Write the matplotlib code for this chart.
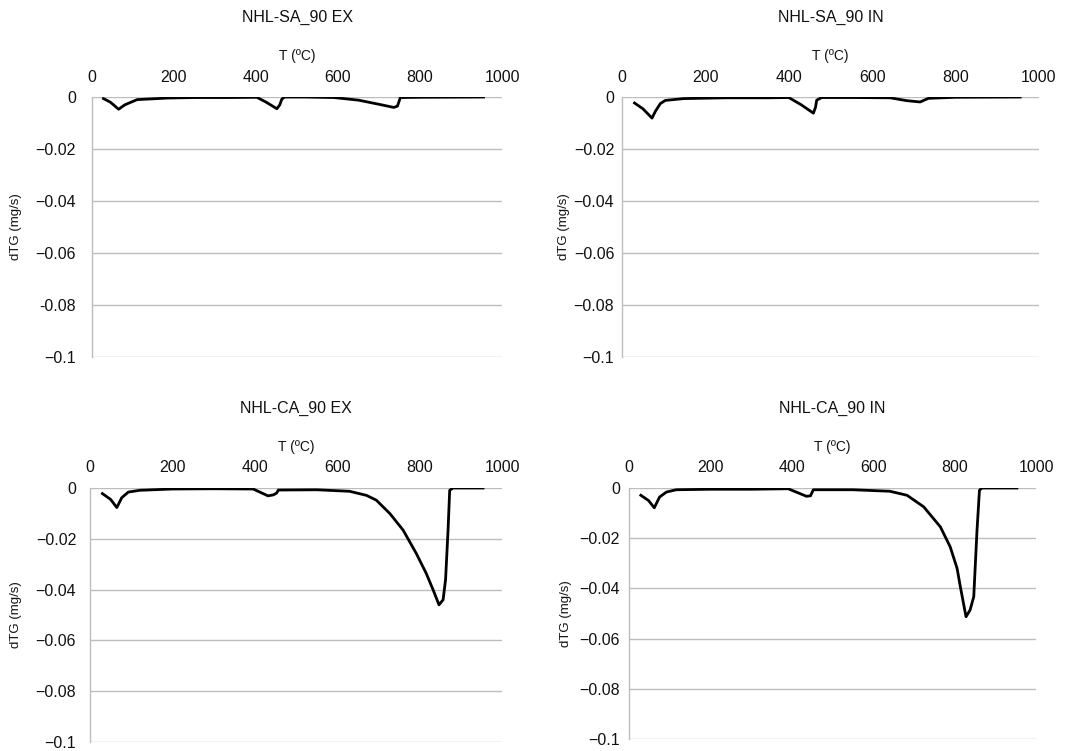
import matplotlib.pyplot as plt

plt.rcParams['font.family'] = ['Liberation Sans', 'DejaVu Sans']

# panel titles
titles = ["NHL-SA_90 EX", "NHL-SA_90 IN", "NHL-CA_90 EX", "NHL-CA_90 IN"]

# temperature (ºC) and dTG (mg/s)
sa_ex_T = [28, 45, 65, 80, 110, 183, 250, 330, 402, 425, 451, 458, 463, 470, 520, 590, 650, 700, 736, 745, 752, 800, 955]
sa_ex_y = [-0.0006, -0.002, -0.0047, -0.003, -0.001, -0.0004, -0.0002, -0.0002, -0.0001, -0.002, -0.0045, -0.003, -0.0008, 0.0, 0.0, -0.0002, -0.0012, -0.0028, -0.004, -0.0035, -0.0002, -0.0001, 0.0]

sa_in_T = [30, 50, 72, 80, 92, 104, 148, 250, 350, 400, 430, 459, 464, 467, 479, 560, 643, 683, 715, 735, 800, 955]
sa_in_y = [-0.0023, -0.0045, -0.0081, -0.0055, -0.0025, -0.0013, -0.0006, -0.0003, -0.0003, -0.0002, -0.003, -0.0062, -0.004, -0.0012, -0.0002, -0.0002, -0.0003, -0.0014, -0.0019, -0.0005, -0.0001, 0.0]

ca_ex_T = [30, 50, 65, 77, 93, 121, 200, 300, 396, 432, 445, 453, 457, 550, 630, 671, 695, 728, 760, 792, 816, 833, 847, 857, 863, 869, 873, 881, 954]
ca_ex_y = [-0.0022, -0.0045, -0.0077, -0.0038, -0.0016, -0.0009, -0.0004, -0.0003, -0.0004, -0.0031, -0.0027, -0.002, -0.0008, -0.0007, -0.0013, -0.0029, -0.0048, -0.0101, -0.0166, -0.0258, -0.0336, -0.0402, -0.046, -0.044, -0.036, -0.0166, -0.0009, 0.0, 0.0]

ca_in_T = [29, 48, 62, 75, 92, 116, 200, 300, 391, 436, 446, 449, 453, 550, 641, 683, 724, 765, 789, 806, 814, 828, 838, 847, 855, 861, 867, 953]
ca_in_y = [-0.0029, -0.005, -0.0079, -0.0036, -0.0016, -0.0007, -0.0005, -0.0005, -0.0003, -0.0033, -0.0031, -0.002, -0.0007, -0.0007, -0.0013, -0.0029, -0.0075, -0.0155, -0.0234, -0.032, -0.0393, -0.0513, -0.0486, -0.0433, -0.0168, -0.0009, 0.0, 0.0]

series_T = [sa_ex_T, sa_in_T, ca_ex_T, ca_in_T]
series_y = [sa_ex_y, sa_in_y, ca_ex_y, ca_in_y]

x_ticks = [0, 200, 400, 600, 800, 1000]
y_ticks = [0, -0.02, -0.04, -0.06, -0.08, -0.1]
y_labels = [["0", "\u22120.02", "\u22120.04", "\u22120.06", "-0.08", "\u22120.1"]] + \
           [["0", "\u22120.02", "\u22120.04", "\u22120.06", "\u22120.08", "\u22120.1"]] * 3

# axes boxes in figure fractions (left, bottom, width, height)
boxes = [
    [0.0851, 0.5246, 0.3793, 0.3462],
    [0.5754, 0.5246, 0.3857, 0.3462],
    [0.0833, 0.0120, 0.3811, 0.3382],
    [0.5819, 0.0160, 0.3765, 0.3342],
]
ylab_x = [-0.171, -0.125, -0.165, -0.14]
ypads = [11.5, 5.5, 10, 6.5]

grid_c = '#bdbdbd'
txt_c = '#111111'

fig = plt.figure(figsize=(10.81, 7.51), dpi=100)

for i in range(4):
    ax = fig.add_axes(boxes[i])
    ax.plot(series_T[i], series_y[i], color='black', lw=2.0, solid_joinstyle='round')
    ax.set_xlim(0, 1000)
    ax.set_ylim(-0.1, 0)
    ax.xaxis.tick_top()
    ax.xaxis.set_label_position('top')
    ax.set_xticks(x_ticks)
    ax.set_xticklabels([str(v) for v in x_ticks])
    ax.set_yticks(y_ticks)
    ax.set_yticklabels(y_labels[i])
    ax.tick_params(axis='both', length=0, labelsize=11.5, colors=txt_c)
    ax.tick_params(axis='x', pad=9)
    ax.tick_params(axis='y', pad=ypads[i])
    ax.set_xlabel("T (\u00baC)", fontsize=10, labelpad=7, color=txt_c)
    ax.set_ylabel("dTG (mg/s)", fontsize=9.5, color=txt_c)
    ax.yaxis.set_label_coords(ylab_x[i], 0.5)
    ax.grid(axis='y', color=grid_c, lw=1.0)
    ax.set_axisbelow(True)
    for s in ['top', 'right', 'bottom']:
        ax.spines[s].set_visible(False)
    ax.spines['left'].set_color(grid_c)
    ax.spines['left'].set_linewidth(1.0)
    ax.annotate(titles[i], xy=(0.5, 1), xycoords='axes fraction',
                xytext=(0, 57), textcoords='offset points',
                ha='center', va='center', fontsize=11.5, color=txt_c)

fig.savefig('out.png', dpi=100)
